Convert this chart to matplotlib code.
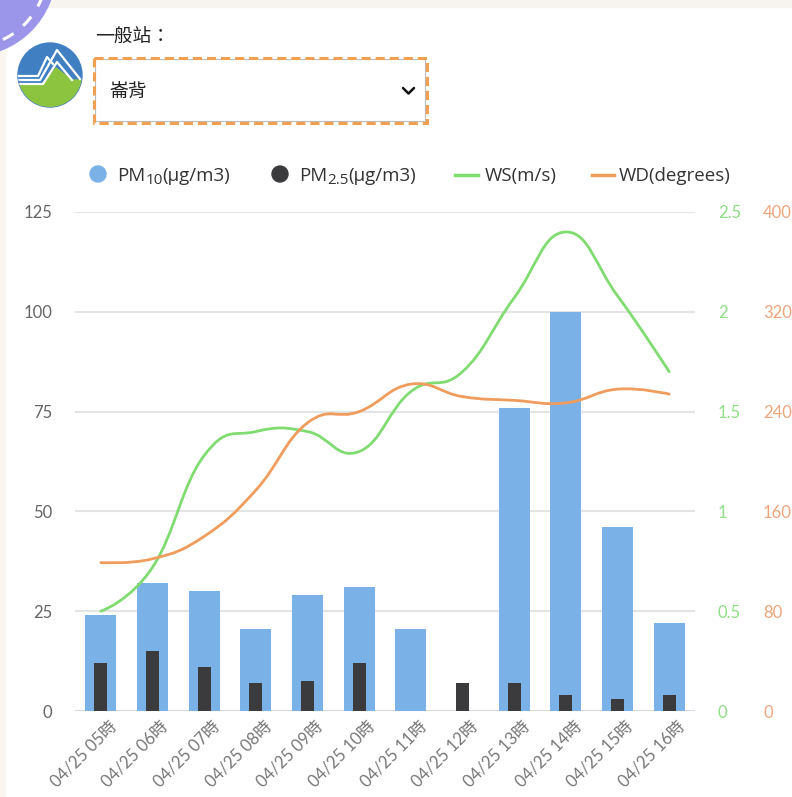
import numpy as np
import matplotlib
matplotlib.use("Agg")
import matplotlib.pyplot as plt
import matplotlib.transforms as mtransforms
from matplotlib.path import Path
from matplotlib.patches import PathPatch, Circle, Rectangle, Polygon
from matplotlib.lines import Line2D

# ---- data ----
hours = ["04/25 05時", "04/25 06時", "04/25 07時", "04/25 08時", "04/25 09時", "04/25 10時",
         "04/25 11時", "04/25 12時", "04/25 13時", "04/25 14時", "04/25 15時", "04/25 16時"]
pm10 = [24, 32, 30, 20.5, 29, 31, 20.5, 0, 76, 100, 46, 22]
pm25 = [12, 15, 11, 7, 7.5, 12, 0, 7, 7, 4, 3, 4]
ws = [0.5, 0.72, 1.28, 1.4, 1.4, 1.3, 1.6, 1.7, 2.07, 2.4, 2.08, 1.7]
wd = [119, 122, 140, 177, 231, 240, 262, 252, 249, 247, 258, 254]

station_label = "一般站："
station = "崙背"

c_pm10 = "#7ab2e8"
c_pm25 = "#3b3b3e"
c_ws = "#80dc70"
c_wd = "#f09c5c"

FONT = ["Lato", "Noto Sans CJK TC", "DejaVu Sans"]
CJK = ["Noto Sans CJK TC", "DejaVu Sans"]
plt.rcParams["font.family"] = FONT

W, H = 792, 797
fig = plt.figure(figsize=(W / 100, H / 100), dpi=100, facecolor="white")
# pixel coords measured from the top-left corner
px = mtransforms.Affine2D().scale(1 / 100, -1 / 100).translate(0, H / 100) + fig.dpi_scale_trans
renderer = fig.canvas.get_renderer()


def smooth_path(xs, ys, k=0.22):
    pts = np.column_stack([xs, ys]).astype(float)
    n = len(pts)
    tang = np.zeros_like(pts)
    for i in range(1, n - 1):
        tang[i] = (pts[i + 1] - pts[i - 1]) * k
    verts = [pts[0]]
    codes = [Path.MOVETO]
    for i in range(n - 1):
        verts += [pts[i] + tang[i], pts[i + 1] - tang[i + 1], pts[i + 1]]
        codes += [Path.CURVE4] * 3
    return Path(verts, codes)


def legend_label(x0, y0, parts):
    # parts: list of (text, is_subscript)
    xc = x0
    for txt, sub in parts:
        t = fig.text(xc, y0 + (5 if sub else 0), txt, transform=px, family="Open Sans",
                     fontsize=11 if sub else 13.5, color="#333333", va="center", ha="left")
        bb = t.get_window_extent(renderer)
        xc += bb.width * 100 / fig.dpi


# ---- page decorations ----
fig.patches.append(Rectangle((0, 0), W, 7, transform=px, color="#f7f3ee", zorder=0))
fig.patches.append(Rectangle((0, 0), 5, H, transform=px, color="#f9f6f1", zorder=0))
fig.patches.append(Circle((-30, -30), 86, transform=px, color="#9c96ea", zorder=1))
fig.patches.append(Circle((-30, -30), 77, transform=px, fill=False, ec="white",
                          lw=2.2, ls=(0, (4, 4)), zorder=2))

# logo
logo = Circle((50, 75), 32, transform=px, color="#3f7fc2", zorder=2)
fig.patches.append(logo)
green = Polygon([(10, 84), (42, 84), (56, 68), (72, 80), (90, 80), (90, 120), (10, 120)],
                transform=px, color="#8cc43f", zorder=3)
green.set_clip_path(logo)
fig.patches.append(green)
for pts in ([(15, 80), (40, 80), (57, 50), (80, 79)],
            [(15, 76), (38, 76), (47, 57), (53, 64)],
            [(15, 84), (43, 84), (57, 62), (72, 80)]):
    ln = Line2D([p[0] for p in pts], [p[1] for p in pts], transform=px,
                color="white", lw=1.6, zorder=4)
    ln.set_clip_path(logo)
    fig.lines.append(ln)

# header + dropdown
fig.text(95, 37, station_label, transform=px, family=CJK, fontsize=13.5,
         color="#222222", va="center", ha="left")
fig.patches.append(Rectangle((95, 59), 330, 62, transform=px, fill=False,
                             ec="#bbbbbb", lw=0.8, zorder=3))
fig.patches.append(Rectangle((93.5, 57.5), 333, 65, transform=px, fill=False,
                             ec="#f0a050", lw=2.2, ls=(0, (3, 1.6)), zorder=4))
fig.text(110, 92, station, transform=px, family=CJK, fontsize=13.5,
         color="#222222", va="center", ha="left")
fig.lines.append(Line2D([403, 408.5, 414], [88, 93.5, 88], transform=px,
                        color="#111111", lw=1.8, solid_capstyle="round", zorder=5))

# legend
fig.patches.append(Circle((98, 174), 8, transform=px, color=c_pm10))
legend_label(117, 176, [("PM", False), ("10", True), ("(μg/m3)", False)])
fig.patches.append(Circle((280, 174), 8, transform=px, color=c_pm25))
legend_label(299, 176, [("PM", False), ("2.5", True), ("(μg/m3)", False)])
fig.lines.append(Line2D([455, 478], [175, 175], transform=px, color=c_ws, lw=2.5))
legend_label(485, 176, [("WS(m/s)", False)])
fig.lines.append(Line2D([592, 614], [175, 175], transform=px, color=c_wd, lw=2.5))
legend_label(619, 176, [("WD(degrees)", False)])

# ---- chart ----
ax = fig.add_axes([75 / W, 1 - 711 / H, 620 / W, 499 / H])
ax.set_facecolor("none")
x = np.arange(len(hours))
ax.bar(x, pm10, width=0.6, color=c_pm10, zorder=2)
ax.bar(x, pm25, width=0.25, color=c_pm25, zorder=3)
ax.set_xlim(-0.5, len(hours) - 0.5)
ax.set_ylim(0, 125)
ax.set_yticks(range(0, 126, 25))
ax.yaxis.grid(True, color="#e4e4e4", lw=1.5)
ax.set_axisbelow(True)
ax.axhline(0, color="#d3d8e0", lw=2, zorder=1)
for s in ax.spines.values():
    s.set_visible(False)
ax.tick_params(axis="y", length=0, pad=16.5, labelsize=12, labelcolor="#666666")
ax.set_xticks(x)
ax.set_xticklabels(hours)
ax.tick_params(axis="x", length=0, pad=5, labelsize=12, labelcolor="#777777")
shift = mtransforms.ScaledTranslation(0.08, 0, fig.dpi_scale_trans)
for lab in ax.get_xticklabels():
    lab.set_rotation(45)
    lab.set_ha("right")
    lab.set_va("top")
    lab.set_rotation_mode("anchor")
    lab.set_transform(lab.get_transform() + shift)

ax2 = ax.twinx()
ax2.set_ylim(0, 2.5)
ax2.set_yticks([0, 0.5, 1, 1.5, 2, 2.5])
ax2.set_yticklabels(["0", "0.5", "1", "1.5", "2", "2.5"])
ax2.tick_params(axis="y", length=0, pad=16.5, labelsize=12, labelcolor="#8fdd86")
ax2.add_patch(PathPatch(smooth_path(x, ws), fill=False, ec=c_ws, lw=2.0,
                        capstyle="round", joinstyle="round"))

ax3 = ax.twinx()
ax3.set_ylim(0, 400)
ax3.set_yticks(range(0, 401, 80))
ax3.tick_params(axis="y", length=0, pad=49, labelsize=12, labelcolor="#eea57c")
ax3.add_patch(PathPatch(smooth_path(x, wd), fill=False, ec=c_wd, lw=2.0,
                        capstyle="round", joinstyle="round"))
for a in (ax2, ax3):
    for s in a.spines.values():
        s.set_visible(False)

fig.savefig("out.png", dpi=100, facecolor="white")
